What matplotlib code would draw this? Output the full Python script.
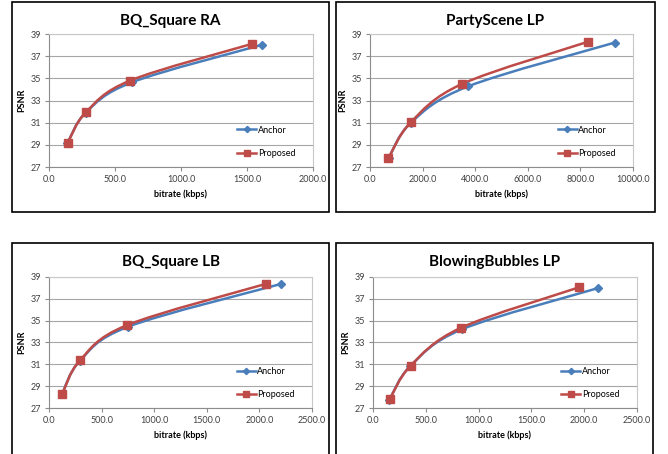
import matplotlib
matplotlib.use('Agg')
import matplotlib.pyplot as plt
from matplotlib.path import Path
from matplotlib.patches import PathPatch, Rectangle
from matplotlib.ticker import FormatStrFormatter

plt.rcParams['font.family'] = ['Lato', 'DejaVu Sans']

# RD data (bitrate in kbps, PSNR in dB)
titles = ['BQ_Square RA', 'PartyScene LP', 'BQ_Square LB', 'BlowingBubbles LP']

anchor_rate = [
    [140, 278, 630, 1615],
    [709, 1557, 3734, 9300],
    [124, 292, 753, 2204],
    [155, 354, 845, 2130],
]
anchor_psnr = [
    [29.15, 31.9, 34.65, 38.03],
    [27.8, 31.0, 34.28, 38.22],
    [28.25, 31.3, 34.45, 38.36],
    [27.75, 30.85, 34.22, 37.98],
]
proposed_rate = [
    [142, 280, 615, 1535],
    [700, 1545, 3506, 8290],
    [126, 294, 737, 2058],
    [157, 356, 829, 1950],
]
proposed_psnr = [
    [29.2, 31.95, 34.8, 38.1],
    [27.8, 31.02, 34.5, 38.3],
    [28.3, 31.36, 34.57, 38.36],
    [27.78, 30.87, 34.33, 38.05],
]
x_max = [2000, 10000, 2500, 2500]
x_step = [500, 2000, 500, 500]

blue = '#4A7EBB'
red = '#BE4B48'

W, H = 668, 454
fig = plt.figure(figsize=(W / 100, H / 100), dpi=100)


def px_rect(l, t, r, b):
    return [l / W, 1 - b / H, (r - l) / W, (b - t) / H]


def smooth_path(xs, ys):
    # Excel-style smoothed line: cubic Bezier through each point
    pts = list(zip(xs, ys))
    verts = [pts[0]]
    codes = [Path.MOVETO]
    n = len(pts)
    for i in range(n - 1):
        p0 = pts[i - 1] if i > 0 else pts[i]
        p1 = pts[i]
        p2 = pts[i + 1]
        p3 = pts[i + 2] if i + 2 < n else pts[i + 1]
        c1 = (p1[0] + (p2[0] - p0[0]) / 6, p1[1] + (p2[1] - p0[1]) / 6)
        c2 = (p2[0] - (p3[0] - p1[0]) / 6, p2[1] - (p3[1] - p1[1]) / 6)
        verts += [c1, c2, p2]
        codes += [Path.CURVE4] * 3
    return Path(verts, codes)


# box frames and axes positions in pixels
boxes = [(12, 2, 329, 212), (336, 2, 655, 212), (12, 243, 329, 470), (336, 243, 653, 470)]
axes_px = [(49, 34, 313, 167), (370, 34, 633, 167), (49, 277, 312, 408), (373, 277, 637, 408)]

for k in range(4):
    bl, bt, br, bb = boxes[k]
    fig.patches.append(Rectangle((bl / W, 1 - bb / H), (br - bl) / W, (bb - bt) / H,
                                 transform=fig.transFigure, fill=False,
                                 edgecolor='black', linewidth=1.2))
    al, at, ar, ab = axes_px[k]
    ax = fig.add_axes(px_rect(al, at, ar, ab))

    for rate, psnr, col, mk, ms, lab in [
        (anchor_rate[k], anchor_psnr[k], blue, 'D', 4, 'Anchor'),
        (proposed_rate[k], proposed_psnr[k], red, 's', 5.5, 'Proposed'),
    ]:
        ax.add_patch(PathPatch(smooth_path(rate, psnr), fill=False,
                               edgecolor=col, linewidth=1.8, zorder=3))
        ax.plot(rate, psnr, linestyle='none', marker=mk, markersize=ms,
                color=col, zorder=4)
        ax.plot([], [], color=col, linewidth=1.8, marker=mk, markersize=ms * 0.8, label=lab)

    ax.set_xlim(0, x_max[k])
    ax.set_ylim(27, 39)
    ax.set_xticks(range(0, x_max[k] + 1, x_step[k]))
    ax.set_yticks(range(27, 40, 2))
    ax.xaxis.set_major_formatter(FormatStrFormatter('%.1f'))
    ax.yaxis.grid(True, color='#A6A6A6', linewidth=0.8)
    ax.set_axisbelow(True)
    for s in ['top', 'right']:
        ax.spines[s].set_color('#C8C8C8')
    for s in ['left', 'bottom']:
        ax.spines[s].set_color('#8C8C8C')
    ax.tick_params(direction='out', length=3, width=0.8, color='#8C8C8C',
                   labelsize=6.5, labelcolor='#404040', pad=3)
    ax.set_xlabel('bitrate (kbps)', fontsize=6.5, fontweight='bold', labelpad=4)
    ax.set_ylabel('PSNR', fontsize=6.5, fontweight='bold', labelpad=3)
    ax.legend(loc='lower left', bbox_to_anchor=(0.70, 0.04), frameon=False,
              fontsize=6.5, labelspacing=1.6, handlelength=2.1, handletextpad=0.15,
              borderaxespad=0)

    fig.text((bl + br) / 2 / W, 1 - (bt + 19) / H, titles[k], ha='center', va='center',
             fontsize=11, fontweight='bold')

fig.savefig('out.png', dpi=100)
